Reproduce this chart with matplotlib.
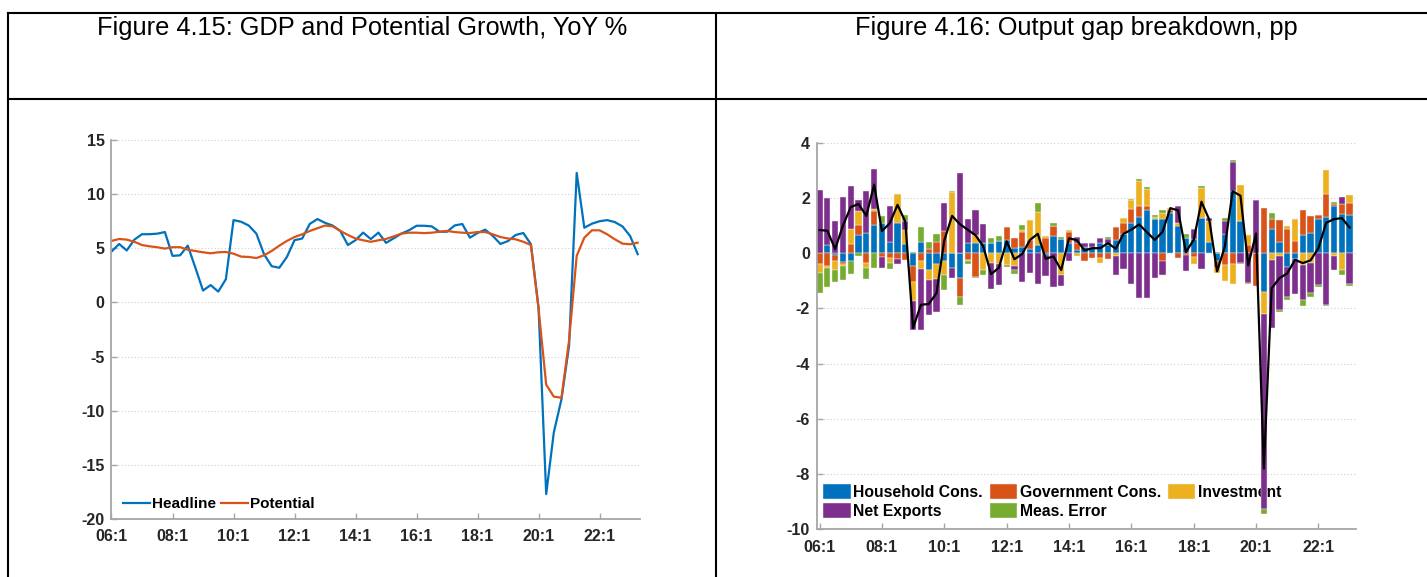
import numpy as np
import matplotlib
matplotlib.use('Agg')
import matplotlib.pyplot as plt
from matplotlib.lines import Line2D

plt.rcParams['font.family'] = ['Liberation Sans', 'DejaVu Sans']

# ---------------- data ----------------
tick_labels = ['06:1', '08:1', '10:1', '12:1', '14:1', '16:1', '18:1', '20:1', '22:1']

headline = [4.7, 5.4, 4.8, 5.8, 6.3, 6.3, 6.35, 6.5, 4.3, 4.35,
            5.25, 3.2, 1.1, 1.6, 1.0, 2.15, 7.6, 7.45, 7.1, 6.35,
            4.45, 3.35, 3.2, 4.2, 5.75, 5.9, 7.25, 7.7, 7.35, 7.1,
            6.6, 5.3, 5.75, 6.45, 5.85, 6.45, 5.5, 5.92, 6.35, 6.66,
            7.08, 7.08, 7.02, 6.53, 6.53, 7.11, 7.24, 5.98, 6.41, 6.72,
            6.14, 5.4, 5.67, 6.23, 6.41, 5.37, -0.5, -17.7, -12.0, -8.95,
            -4.0, 11.96, 6.9, 7.27, 7.5, 7.6, 7.42, 7.02, 6.14, 4.46]

potential = [5.68, 5.86, 5.8, 5.6, 5.3, 5.18, 5.1, 4.97, 5.1, 5.1,
             4.87, 4.75, 4.63, 4.54, 4.63, 4.66, 4.5, 4.23, 4.2, 4.1,
             4.35, 4.75, 5.24, 5.68, 6.04, 6.29, 6.6, 6.85, 7.1, 7.03,
             6.6, 6.23, 5.9, 5.74, 5.6, 5.74, 5.86, 6.1, 6.35, 6.44,
             6.44, 6.4, 6.44, 6.53, 6.6, 6.5, 6.44, 6.41, 6.5, 6.5,
             6.29, 6.04, 5.9, 5.83, 5.6, 5.3, -0.6, -7.6, -8.7, -8.8,
             -3.5, 4.3, 5.98, 6.66, 6.66, 6.29, 5.83, 5.43, 5.37, 5.52]

household = [0, 0.3, -0.06, -0.33, -0.27, 0.66, 0.73, 1.03, 1.08, 0.42,
             1.1, 0.33, -0.46, 0.42, -0.6, -0.4, -0.3, -0.54, -0.9, 0.36,
             0.36, 0.35, 0.36, 0.45, 0.48, 0.18, 0.22, 0.14, 0.3, -0.05,
             0.63, 0.5, 0.36, 0.1, 0.22, 0.24, 0.36, 0.3, 0.48, 0.7,
             1.09, 1.3, 1.55, 1.23, 1.23, 1.45, 0.99, 0.54, 0.5, 1.27,
             0.42, -0.3, 0.7, 2.24, 1.18, 0, 0, -1.39, 0.88, 0.42,
             -0.51, -0.2, 0.66, 0.73, 1.23, 1.31, 1.69, 1.41, 1.39]

government = [-0.4, -0.46, -0.22, -0.07, 0.34, 0.36, -0.34, 0.48, -0.15, -0.18,
              -0.22, -0.24, -0.57, -0.3, 0.16, 0.39, 0.82, 0, -0.67, -0.25,
              -0.85, 0, 0, 0, 0.45, 0.36, 0.53, 0.34, 0, 0.55,
              0.34, 0, 0.4, 0.27, -0.27, -0.18, -0.18, -0.22, 0.46, 0.39,
              0.52, 0.41, 0.17, 0, -0.3, 0.12, -0.16, -0.05, -0.15, 0,
              0, -0.25, -0.42, -0.4, 0, 0.3, -1.2, 1.65, 0.35, 0.79,
              0.88, 0.45, 0.91, 0.63, 0.16, 0.85, 0.1, 0.36, 0.42]

investment = [-0.33, -0.06, -0.33, -0.08, 0.53, 0.5, -0.2, 0.08, 0, -0.16,
              1.04, 0.5, -0.72, -0.28, -0.36, -0.54, -0.5, 2.2, 0, -0.05,
              0.3, -0.6, -0.36, -0.4, -0.42, -0.48, 0.1, 0.72, 1.2, 0.08,
              0, -0.78, 0.08, -0.1, 0, 0, -0.18, 0, -0.1, 0.18,
              0.3, 0.9, 0.6, 0.07, 0.24, 0.06, 0.12, 0, -0.23, 1.09,
              0.76, -0.18, -0.6, -0.72, 1.29, 0.36, 0, -0.81, -0.24, -0.1,
              0.1, 0.79, -0.42, -0.36, 0, 0.85, -0.12, -0.6, 0.3]

net_exports = [2.3, 1.7, 1.17, 2.03, 1.58, 0.4, 1.53, 1.45, -0.4, 1.27,
               -0.17, 0.35, -1.02, -2.22, -1.27, -1.2, 0.99, -0.36, 2.92, 0.87,
               0.9, 0.7, -0.94, -0.75, 0, -0.12, -1.06, -0.72, -1.1, -0.78,
               -1.21, -0.4, -0.3, 0.2, 0.15, 0.12, 0.18, 0.22, -0.68, -0.57,
               -1.11, -1.63, -1.63, -0.9, -0.5, 0, 0.6, -0.6, 0.36, -0.58,
               0.08, 0, 0.48, 1.06, -0.34, -1.09, 1.91, -7.05, -2.48, -1.95,
               -1.06, -1.28, -1.27, -1.09, -1.15, -1.88, -0.5, 0.28, -1.11]

meas_error = [-0.73, -0.69, -0.45, -0.51, -0.5, -0.12, -0.39, -0.54, 0.25, -0.24,
              0, 0.2, 0.06, 0.51, 0.23, 0.3, -0.55, 0.05, -0.3, -0.08,
              -0.06, -0.2, 0.18, 0.17, -0.08, -0.16, 0.18, 0, 0.3, 0,
              0.12, 0.07, 0, 0, 0, 0, 0, 0.06, 0, 0,
              0.05, 0.06, 0.07, 0.08, 0.1, 0, 0, 0.15, 0, 0.08,
              0, 0.05, 0.08, 0.06, -0.05, -0.03, 0, -0.2, 0.22, -0.07,
              -0.14, 0, -0.24, -0.15, -0.06, -0.03, 0.06, -0.18, -0.07]

output_gap = [0.84, 0.81, 0.15, 1.0, 1.67, 1.78, 1.35, 2.48, 0.8, 1.08,
              1.75, 1.14, -2.71, -1.87, -1.84, -1.45, 0.46, 1.35, 1.05, 0.85,
              0.65, 0.25, -0.76, -0.53, 0.43, -0.22, -0.03, 0.48, 0.7, -0.2,
              -0.12, -0.61, 0.54, 0.47, 0.1, 0.18, 0.18, 0.36, 0.16, 0.7,
              0.85, 1.04, 0.76, 0.48, 0.77, 1.63, 1.55, 0.04, 0.48, 1.86,
              1.21, -0.66, 0.24, 2.24, 2.08, -0.44, 0.71, -7.8, -1.27, -0.91,
              -0.73, -0.24, -0.36, -0.26, 0.18, 1.1, 1.23, 1.27, 0.93]

component_names = ['Household Cons.', 'Government Cons.', 'Investment',
                   'Net Exports', 'Meas. Error']
component_colors = ['#0072BD', '#D95319', '#EDB120', '#7E2F8E', '#77AC30']

# ---------------- figure ----------------
W, H = 1427, 577
fig = plt.figure(figsize=(W / 100, H / 100), dpi=100)


def fx(px):
    return px / W


def fy(py):
    return 1 - py / H


# table borders
for (x0, y0, x1, y1) in [(8, 12.5, W, 12.5), (8, 98.5, W, 98.5),
                         (8, 12.5, 8, H), (716, 12.5, 716, H)]:
    fig.add_artist(Line2D([fx(x0), fx(x1)], [fy(y0), fy(y1)], color='black',
                          lw=1.5, transform=fig.transFigure))

fig.text(fx(362), fy(35), 'Figure 4.15: GDP and Potential Growth, YoY %',
         ha='center', va='baseline', fontsize=18.3, color='black')
fig.text(fx(1076), fy(35), 'Figure 4.16: Output gap breakdown, pp',
         ha='center', va='baseline', fontsize=18.3, color='black')

AXC = '#a6a6a6'
TXT = '#262626'


def style(ax, yticks, xpad):
    for s in ['top', 'right']:
        ax.spines[s].set_visible(False)
    for s in ['left', 'bottom']:
        ax.spines[s].set_color(AXC)
        ax.spines[s].set_linewidth(1.3)
    ax.set_xticks(np.arange(0, 8 * len(tick_labels), 8))
    ax.set_xticklabels(tick_labels, fontweight='bold')
    ax.set_yticks(yticks)
    ax.set_yticklabels([str(v) for v in yticks], fontweight='bold')
    ax.tick_params(direction='in', length=4, width=1, color=AXC,
                   labelsize=11.5, labelcolor=TXT)
    ax.tick_params(axis='y', pad=5)
    ax.tick_params(axis='x', pad=xpad)
    ax.yaxis.grid(True, linestyle=(0, (1, 2)), color='#d0d0d0', lw=0.8)
    ax.set_axisbelow(True)


# ----- left chart -----
ax1 = fig.add_axes([fx(111.5), fy(519), (640 - 111.5) / W, (519 - 140) / H])
q1 = np.arange(len(headline))
ax1.plot(q1, headline, color='#0072BD', lw=1.6, label='Headline')
ax1.plot(q1, potential, color='#D95319', lw=1.6, label='Potential')
ax1.set_xlim(0, 69.3)
ax1.set_ylim(-20, 15)
style(ax1, [-20, -15, -10, -5, 0, 5, 10, 15], xpad=7)
leg1 = ax1.legend(loc='lower left', bbox_to_anchor=(0.01, 0.005), ncol=2,
                  frameon=False, handlelength=1.8, handletextpad=0.12,
                  columnspacing=0.3, borderaxespad=0,
                  prop={'weight': 'bold', 'size': 11})
for t in leg1.get_texts():
    t.set_color('black')

# ----- right chart -----
ax2 = fig.add_axes([fx(817), fy(529.3), (1355.8 - 817) / W, (529.3 - 142.7) / H])
comps = [household, government, investment, net_exports, meas_error]
n = len(household)
q2 = np.arange(n)
pos_base = np.zeros(n)
neg_base = np.zeros(n)
handles = []
for vals, name, col in zip(comps, component_names, component_colors):
    v = np.array(vals, dtype=float)
    bottoms = np.where(v >= 0, pos_base, neg_base)
    b = ax2.bar(q2, v, width=0.8, bottom=bottoms, color=col,
                edgecolor='#f4f4f4', linewidth=0.3, label=name, zorder=2)
    handles.append(b)
    pos_base = pos_base + np.where(v > 0, v, 0)
    neg_base = neg_base + np.where(v < 0, v, 0)
ax2.plot(q2, output_gap, color='black', lw=1.6, zorder=3)
ax2.set_xlim(-0.33, 68.8)
ax2.set_ylim(-10, 4)
style(ax2, [-10, -8, -6, -4, -2, 0, 2, 4], xpad=8)
order = [0, 3, 1, 4, 2]
leg2 = ax2.legend([handles[i] for i in order], [component_names[i] for i in order],
                  loc='lower left', bbox_to_anchor=(0.0, 0.01), ncol=3,
                  frameon=False, handlelength=1.75, handleheight=1.1,
                  handletextpad=0.15, columnspacing=0.45, labelspacing=0.2,
                  borderaxespad=0, prop={'weight': 'bold', 'size': 11.3})
leg2.set_zorder(1)

fig.savefig('out.png', dpi=100)
